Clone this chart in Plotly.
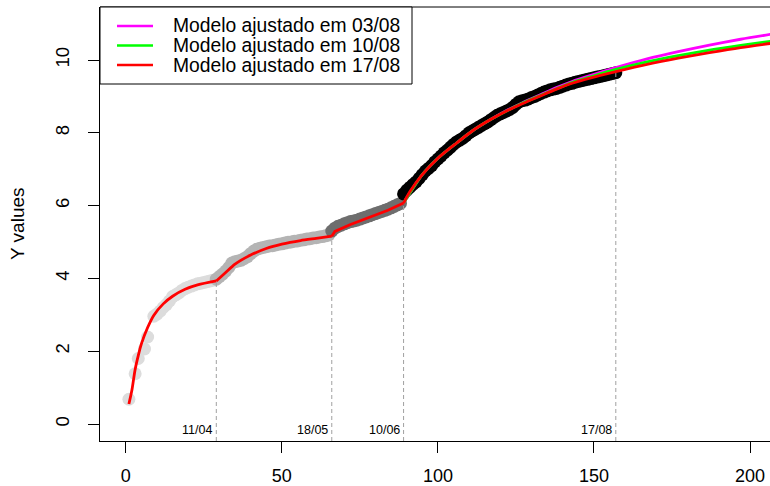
import plotly.graph_objects as go

# ---------------- data ----------------
days_seg1 = [1, 3, 4, 6, 7, 9, 10, 11, 12, 13, 14, 15, 16, 17, 18, 19, 20, 21, 22, 23, 24, 25, 26, 27, 28]
vals_seg1 = [0.68, 1.38, 1.80, 2.06, 2.39, 2.96, 3.02, 3.10, 3.20, 3.28, 3.38, 3.50, 3.55, 3.60, 3.67,
             3.72, 3.76, 3.79, 3.82, 3.85, 3.87, 3.89, 3.91, 3.93, 3.95]

days_seg2 = list(range(29, 66))
vals_seg2 = [3.98, 4.05, 4.12, 4.20, 4.30, 4.42, 4.46, 4.48, 4.50, 4.55, 4.60, 4.68, 4.75, 4.80, 4.83,
             4.85, 4.87, 4.89, 4.90, 4.92, 4.94, 4.95, 4.97, 4.99, 5.00, 5.02, 5.03, 5.05, 5.06, 5.08,
             5.09, 5.11, 5.12, 5.14, 5.15, 5.17, 5.19]

days_seg3 = list(range(66, 89))
vals_seg3 = [5.30, 5.38, 5.43, 5.46, 5.50, 5.53, 5.56, 5.58, 5.60, 5.63, 5.66, 5.69, 5.72, 5.75, 5.78,
             5.81, 5.84, 5.87, 5.90, 5.94, 5.98, 6.02, 6.06]

days_seg4 = list(range(89, 158))
vals_seg4 = [6.32, 6.42, 6.50, 6.58, 6.65, 6.75, 6.85, 6.95, 7.02, 7.10, 7.20, 7.28, 7.36, 7.45, 7.52,
             7.60, 7.68, 7.75, 7.80, 7.85, 7.92, 8.00, 8.05, 8.10, 8.15, 8.20, 8.25, 8.30, 8.36, 8.42,
             8.48, 8.52, 8.56, 8.60, 8.64, 8.70, 8.78, 8.85, 8.88, 8.90, 8.93, 8.97, 9.00, 9.04, 9.08,
             9.12, 9.15, 9.18, 9.20, 9.22, 9.25, 9.28, 9.31, 9.34, 9.36, 9.39, 9.41, 9.43, 9.45, 9.47,
             9.49, 9.51, 9.53, 9.55, 9.57, 9.59, 9.61, 9.63, 9.65]

seg_colors = ["#DCDCDC", "#B4B4B4", "#6E6E6E", "#000000"]

# fitted model (17/08), piecewise
fit1_x = [1, 2, 3, 4, 5, 7, 9, 12, 15, 19, 23, 29]
fit1_y = [0.55, 0.95, 1.50, 1.88, 2.20, 2.65, 2.99, 3.30, 3.51, 3.70, 3.82, 3.93]
fit2_x = [29, 32, 35, 40, 45, 50, 56, 61, 66]
fit2_y = [3.93, 4.16, 4.39, 4.64, 4.82, 4.94, 5.04, 5.10, 5.16]
fit3_x = [66, 67, 72, 78, 84, 89]
fit3_y = [5.16, 5.29, 5.48, 5.68, 5.87, 6.07]
fit4_x = [89, 91, 95, 100, 106, 111, 117, 122, 127, 133, 138, 143, 149, 157, 167, 177, 187, 197, 207]
fit4_y = [6.07, 6.38, 6.85, 7.30, 7.72, 8.05, 8.37, 8.60, 8.80, 9.02, 9.20, 9.36, 9.51, 9.68,
          9.88, 10.05, 10.20, 10.34, 10.46]

# models fitted on 03/08 and 10/08 (last segment)
m0308_x = [89, 95, 100, 106, 111, 117, 122, 127, 133, 138, 143, 149, 157, 167, 177, 187, 197, 207]
m0308_y = [6.07, 6.85, 7.30, 7.72, 8.05, 8.37, 8.61, 8.82, 9.05, 9.24, 9.41, 9.58, 9.79, 10.03,
           10.23, 10.41, 10.57, 10.71]
m1008_x = [89, 95, 100, 106, 111, 117, 122, 127, 133, 138, 143, 149, 157, 167, 177, 187, 197, 207]
m1008_y = [6.07, 6.85, 7.30, 7.72, 8.05, 8.37, 8.60, 8.81, 9.03, 9.21, 9.38, 9.54, 9.74, 9.95,
           10.12, 10.27, 10.40, 10.52]

break_days = [29, 66, 89, 157]
break_tops = [3.93, 5.16, 6.07, 9.68]
break_labels = ["11/04", "18/05", "10/06", "17/08"]

legend_labels = ["Modelo ajustado em 03/08", "Modelo ajustado em 10/08", "Modelo ajustado em 17/08"]
legend_colors = ["#FF00FF", "#00FF00", "#FF0000"]

x_ticks = [0, 50, 100, 150, 200]
y_ticks = [0, 2, 4, 6, 8, 10]
x_range = [-8.26, 206.4]
y_range = [-0.467, 11.456]

# ---------------- figure ----------------
fig = go.Figure()

for dx, dy, col in zip([days_seg1, days_seg2, days_seg3, days_seg4],
                       [vals_seg1, vals_seg2, vals_seg3, vals_seg4], seg_colors):
    fig.add_trace(go.Scatter(x=dx, y=dy, mode="markers",
                             marker=dict(size=13, color=col, line=dict(width=0)),
                             hoverinfo="skip"))

for bd, bt in zip(break_days, break_tops):
    fig.add_trace(go.Scatter(x=[bd, bd], y=[y_range[0], bt], mode="lines",
                             line=dict(color="#A0A0A0", width=1, dash="4px,3px"),
                             hoverinfo="skip"))

fig.add_trace(go.Scatter(x=m0308_x, y=m0308_y, mode="lines",
                         line=dict(color=legend_colors[0], width=2.8, shape="spline", smoothing=0.8)))
fig.add_trace(go.Scatter(x=m1008_x, y=m1008_y, mode="lines",
                         line=dict(color=legend_colors[1], width=2.8, shape="spline", smoothing=0.8)))
fig.add_trace(go.Scatter(x=fit1_x, y=fit1_y, mode="lines",
                         line=dict(color="#FF0000", width=2.8, shape="spline", smoothing=0.8)))
fig.add_trace(go.Scatter(x=fit2_x, y=fit2_y, mode="lines",
                         line=dict(color="#FF0000", width=2.8, shape="spline", smoothing=0.6)))
fig.add_trace(go.Scatter(x=fit3_x, y=fit3_y, mode="lines",
                         line=dict(color="#FF0000", width=2.8)))
fig.add_trace(go.Scatter(x=fit4_x, y=fit4_y, mode="lines",
                         line=dict(color="#FF0000", width=2.8, shape="spline", smoothing=0.8)))

annotations = []
for bd, lab in zip(break_days, break_labels):
    annotations.append(dict(x=bd, y=-0.16, xref="x", yref="y", text=lab, showarrow=False,
                            xanchor="right", yanchor="middle", xshift=-2,
                            font=dict(size=12.5, color="black")))

annotations.append(dict(x=0, y=0.5, xref="paper", yref="paper", text="Y values", showarrow=False,
                        textangle=-90, xanchor="center", yanchor="middle", xshift=-83,
                        font=dict(size=19, color="black")))

# manual legend (R-style box)
plot_w = 770 - 100
plot_h = 486 - 7 - 45
def px_to_paper_x(px):
    return (px - 100) / plot_w
def px_to_paper_y(py):
    return (441 - py) / plot_h

shapes = [
    dict(type="line", xref="paper", yref="paper", x0=0, x1=1, y0=1, y1=1,
         line=dict(color="black", width=1), layer="above"),
    dict(type="rect", xref="paper", yref="paper", x0=0, x1=px_to_paper_x(412),
         y0=px_to_paper_y(84), y1=1, fillcolor="white", line=dict(color="black", width=1),
         layer="above"),
]
row_y = [26, 45.5, 65]
for ry, lab, col in zip(row_y, legend_labels, legend_colors):
    shapes.append(dict(type="line", xref="paper", yref="paper",
                       x0=px_to_paper_x(117), x1=px_to_paper_x(153),
                       y0=px_to_paper_y(ry), y1=px_to_paper_y(ry),
                       line=dict(color=col, width=2.5), layer="above"))
    annotations.append(dict(x=px_to_paper_x(171), y=px_to_paper_y(ry), xref="paper", yref="paper",
                            text=lab, showarrow=False, xanchor="left", yanchor="middle",
                            font=dict(size=19.3, color="black")))

axis_common = dict(showline=True, linecolor="black", linewidth=1, ticks="outside", ticklen=11,
                   tickwidth=1, tickcolor="black", showgrid=False, zeroline=False,
                   automargin=False)

fig.update_layout(
    width=770, height=486,
    margin=dict(l=100, r=0, t=7, b=45, pad=0),
    paper_bgcolor="white", plot_bgcolor="white",
    showlegend=False,
    font=dict(family="Liberation Sans, Arial, Helvetica, sans-serif", color="black"),
    xaxis=dict(range=x_range, tickvals=x_ticks, ticklabelstandoff=7,
               tickfont=dict(size=18, color="black"), **axis_common),
    yaxis=dict(range=y_range, tickvals=y_ticks, tickangle=-90, ticklabelstandoff=12,
               tickfont=dict(size=18.5, color="black"), **axis_common),
    shapes=shapes,
    annotations=annotations,
)

fig.write_html("out.html")
